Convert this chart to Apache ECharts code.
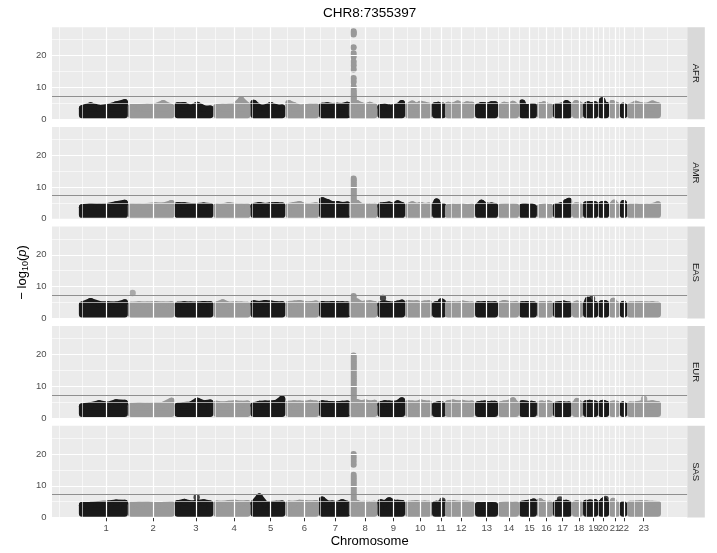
<!DOCTYPE html>
<html><head><meta charset="utf-8">
<script src="https://cdn.jsdelivr.net/npm/echarts@6/dist/echarts.min.js"></script>
<style>html,body{margin:0;padding:0;background:#fff}#c{width:717px;height:553px}</style>
</head><body><div id="c"></div>
<script>
// ---------------- data ----------------
const chartTitle = 'CHR8:7355397';
const panels = ['AFR', 'AMR', 'EAS', 'EUR', 'SAS'];
const chromosomes = ['1','2','3','4','5','6','7','8','9','10','11','12','13','14','15','16','17','18','19','20','21','22','23'];
// cumulative genome position (Mb) of first / last SNP of each chromosome
const chrStart = [0, 254, 496, 697, 890, 1071, 1245, 1400, 1548, 1691, 1831, 1898, 2054, 2173, 2282, 2375, 2458, 2557, 2614, 2692, 2749, 2805, 2842];
const chrEnd   = [221, 463, 664, 857, 1037, 1212, 1375, 1515, 1658, 1798, 1870, 2021, 2140, 2249, 2342, 2425, 2524, 2581, 2659, 2716, 2773, 2810, 2985];
// tick (label) position of each chromosome
const chrTick  = [125, 369, 590, 789, 977, 1153, 1314, 1468, 1614, 1753, 1860, 1966, 2098, 2213, 2320, 2408, 2492, 2576, 2652, 2701, 2763, 2809, 2912];
// colour group of each chromosome (0 = dark, 1 = grey)
const chrGroup = [0,1,0,1,0,1,0,1,0,1,0,1,0,1,0,1,0,1,0,0,1,0,1];
const yTicks = [0, 10, 20];
const yMinor = [5, 15, 25];
const sigLevel = 7.3;
const minLogP = 1.3;
const leadPos = 1407.4; // CHR8:7355397

// top of the -log10(p) cloud along each chromosome (max values)
const envAFR = [
 [3.4,4.3,3.5,3.8,4.6,5.3],[3.8,3.8,3.9,4.0,5.0,3.8],[4.3,4.4,3.5,4.5,3.4,3.3],[3.8,3.9,4.0,4.2,6.1,4.3],
 [5.1,3.7,3.6,4.4,3.7,3.6],[5.0,4.3,3.6,3.8,4.0,4.0],[4.2,4.3,4.1,4.2,4.1,4.5],[4.3,5.0,4.4,4.0,4.5,4.0],
 [3.8,3.9,3.6,3.7,4.0,5.0],[4.2,4.9,4.1,4.8,4.5,4.2],[4.3,4.3,4.5,4.0,3.9,4.2],[4.5,4.2,4.9,4.1,4.6,4.5],
 [4.0,4.4,4.3,4.2,4.6,4.6],[4.0,4.5,4.3,4.0,4.8,4.2],[5.2,3.7,3.8,3.8,4.0,4.0],[4.4,4.1,4.6,4.3,4.0,4.0],
 [4.0,4.1,4.2,4.3,5.0,4.5],[4.6,5.0,4.8,4.4,4.6,4.5],[4.3,4.6,4.4,4.4,4.3,4.6],[4.6,5.9,4.9,4.2,4.5,4.5],
 [5.0,4.6,4.2,4.2,4.5,4.3],[3.5,4.0,4.2,4.1,4.0,3.7],[4.0,4.8,4.3,4.2,4.9,4.3]];
const envAMR = [
 [3.6,4.0,3.8,4.0,4.5,5.0],[4.0,3.9,4.0,4.2,4.1,4.9],[4.3,4.2,4.0,4.0,4.1,4.0],[3.9,3.8,4.3,4.0,3.9,3.9],
 [4.0,4.3,4.0,4.2,4.3,4.1],[4.0,4.3,4.6,4.0,4.0,4.2],[5.8,5.2,4.5,4.6,4.3,4.4],[4.4,5.0,4.0,4.0,3.9,4.0],
 [4.1,4.3,4.4,4.0,4.8,4.3],[4.0,4.5,4.0,4.3,4.0,4.1],[4.4,5.4,4.3,4.0,4.0,4.0],[3.6,3.8,3.7,3.9,3.6,3.8],
 [4.0,5.0,4.3,4.0,4.1,4.0],[3.8,3.9,4.0,3.8,3.9,3.8],[3.8,4.0,3.8,3.7,3.9,3.6],[3.6,3.7,3.8,3.9,3.6,3.7],
 [3.9,4.0,4.2,4.4,5.2,5.6],[4.0,4.2,4.0,3.9,4.1,4.0],[4.5,4.4,4.5,4.6,4.4,4.5],[4.4,4.5,4.3,4.4,4.6,4.3],
 [4.2,4.6,5.0,4.4,4.2,4.1],[3.8,4.2,4.5,4.9,4.6,4.2],[3.8,3.9,3.7,3.8,3.9,4.5]];
const envEAS = [
 [4.3,5.4,4.5,4.4,4.3,5.0],[4.2,4.4,4.3,4.5,4.3,4.4],[4.2,4.4,4.3,4.3,4.5,4.4],[4.3,5.0,4.2,4.4,4.3,4.2],
 [4.7,4.5,4.8,4.6,4.4,4.4],[4.5,4.6,4.8,4.5,4.4,4.6],[4.5,4.3,4.5,4.4,4.4,4.3],[4.6,5.3,4.5,4.6,4.7,4.5],
 [4.4,4.6,4.4,4.3,4.6,4.9],[4.8,4.6,4.7,4.5,4.6,4.7],[4.3,4.4,4.5,4.6,5.3,5.0],[4.5,4.4,4.3,4.6,4.4,4.3],
 [4.4,4.3,4.5,4.4,4.3,4.4],[4.5,4.8,4.6,4.4,4.3,4.5],[4.4,4.3,4.5,4.4,4.3,4.3],[4.4,4.5,4.4,4.2,4.3,4.5],
 [4.3,4.4,4.5,4.6,4.4,4.3],[4.4,4.5,4.6,4.4,4.5,4.4],[4.5,5.8,5.0,4.8,4.6,4.5],[4.6,4.7,4.5,4.6,4.7,4.6],
 [4.6,5.5,4.8,4.4,4.5,4.3],[4.2,4.3,4.5,4.3,4.2,4.0],[4.3,4.4,4.5,4.3,4.4,4.2]];
const envEUR = [
 [3.6,4.0,4.6,4.1,4.9,4.7],[3.8,4.0,3.9,4.0,4.1,5.4],[3.8,4.0,4.2,5.4,4.6,4.8],[4.4,4.2,4.4,4.6,4.4,4.5],
 [4.0,4.4,4.5,4.5,4.7,6.0],[4.4,4.6,4.5,4.4,4.7,4.5],[4.6,4.4,4.3,4.3,4.4,4.5],[4.5,5.0,4.6,4.8,4.5,4.7],
 [4.3,4.6,4.5,4.4,4.6,5.5],[4.6,4.5,4.4,4.8,4.6,4.5],[4.0,4.1,4.2,4.3,4.2,4.1],[4.6,4.8,4.5,4.7,4.4,4.5],
 [4.3,4.4,4.5,4.3,4.4,4.4],[4.3,4.5,4.6,4.8,5.5,4.4],[4.6,4.5,4.4,4.3,4.4,4.3],[4.4,4.5,4.3,4.4,4.6,4.4],
 [4.1,4.2,4.3,4.2,4.1,4.2],[4.5,4.7,5.3,4.7,4.6,4.5],[4.6,4.5,4.7,4.6,4.5,4.5],[4.5,4.6,4.7,4.5,4.4,4.4],
 [4.4,4.3,4.5,4.4,4.3,4.4],[4.0,4.2,4.1,4.0,4.0,3.9],[4.2,4.3,4.5,4.4,4.6,4.3]];
const envSAS = [
 [3.9,4.0,4.2,4.4,4.7,4.6],[4.0,4.1,4.2,3.9,4.0,4.2],[4.5,4.9,4.4,4.6,4.8,4.4],[4.4,4.3,4.5,4.6,4.4,4.5],
 [4.5,6.6,4.3,4.2,4.3,4.4],[4.4,4.3,4.6,4.5,4.4,4.5],[5.6,4.4,4.4,4.2,4.8,4.3],[4.4,4.6,4.2,4.3,4.2,4.3],
 [4.8,4.5,5.4,4.7,4.6,4.5],[4.3,4.4,4.5,4.3,4.4,4.3],[4.2,4.3,4.1,4.4,4.5,4.6],[4.4,4.5,4.3,4.4,4.3,4.2],
 [3.9,3.8,3.9,3.8,3.9,3.8],[4.0,4.1,4.2,4.1,4.0,4.2],[4.3,4.4,4.5,4.6,4.8,5.0],[5.1,4.6,4.4,4.3,4.2,4.3],
 [4.4,4.7,4.6,4.5,4.6,4.3],[4.3,4.4,4.5,4.3,4.2,4.3],[4.6,4.5,4.7,4.6,4.5,4.8],[4.6,4.8,5.2,5.4,5.0,4.7],
 [4.6,5.2,4.5,4.3,4.2,4.1],[3.9,4.1,4.2,4.0,3.8,3.7],[4.3,4.4,4.5,4.4,4.3,4.2]];

// -log10(p) of the SNPs at the lead locus (chr8, 7.36 Mb)
const leadAFR = [27.6,27.2,26.7,22.6,20.7,19.7,18.1,17.0,15.7,12.9,11.8,10.2,9.2,8.6,8.0,7.5,7.0,6.5,6.0,5.5];
const leadAMR = [12.6,12.1,11.5,10.9,10.3,9.7,9.1,8.5,7.9,7.3,6.7,6.1,5.5];
const leadEAS = [7.0,6.1,5.4];
const leadEUR = [19.6,19.0,18.4,17.8,17.3,16.7,16.1,15.5,14.9,14.3,13.7,13.1,12.5,11.9,11.3,10.7,10.1,9.5,8.9,8.3,7.7,7.1,6.5,5.9,5.3];
const leadSAS = [19.9,18.9,17.8,16.7,13.4,12.6,11.9,11.1,10.4,9.6,8.9,8.1,7.4,6.6,5.9,5.2];

// isolated SNPs above the cloud: [chromosome index, position (Mb), -log10(p)]
const loneAFR = [];
const loneAMR = [];
const loneEAS = [[1, 262, 8.0], [8, 1560, 6.4], [18, 2644, 6.2]];
const loneEUR = [[22, 2914, 6.0]];
const loneSAS = [[2, 594, 6.4], [10, 1868, 5.3], [16, 2478, 5.7], [19, 2714, 5.9]];

const envs  = [envAFR, envAMR, envEAS, envEUR, envSAS];
const leads = [leadAFR, leadAMR, leadEAS, leadEUR, leadSAS];
const lones = [loneAFR, loneAMR, loneEAS, loneEUR, loneSAS];

// ---------------- layout / style ----------------
const COLORS = ['#1A1A1A', '#999999'];
const FONT = 'Liberation Sans, Arial, Helvetica, sans-serif';
const PL = 52, PR = 687.3, PT = 27.3, PH = 91.9, STEP = 99.6;
const XMIN = -156, XMAX = 3138, YMIN = 0, YMAX = 28.9;
const R = 3.2;

// ggplot-like minor breaks for x
const bd = chrTick[1] - chrTick[0];
const ext = [chrTick[0] - bd].concat(chrTick);
if (XMAX > chrTick[chrTick.length - 1]) ext.push(chrTick[chrTick.length - 1] + bd);
const xMinor = [];
for (let i = 0; i < ext.length - 1; i++) { xMinor.push(ext[i]); xMinor.push((ext[i] + ext[i + 1]) / 2); }
const xMinorIn = xMinor.filter(v => v > XMIN && v < XMAX);

const grids = [], xAxes = [], yAxes = [], series = [], graphics = [];
panels.forEach((p, g) => {
  const top = PT + g * STEP;
  grids.push({ left: PL, width: PR - PL, top: top, height: PH, show: true, backgroundColor: '#EBEBEB', borderWidth: 0, containLabel: false });
  const bottom = g === panels.length - 1;
  xAxes.push({
    gridIndex: g, type: 'value', min: XMIN, max: XMAX,
    axisLine: { show: false }, splitLine: { show: false },
    axisTick: bottom ? { show: true, customValues: chrTick, length: 3.7, lineStyle: { color: '#333333', width: 1 } } : { show: false },
    axisLabel: bottom ? { show: true, customValues: chrTick, interval: 0, margin: 5.5, fontSize: 9.5, color: '#4D4D4D', fontFamily: FONT,
      formatter: v => { const k = chrTick.findIndex(t => Math.abs(t - v) < 0.01); return k >= 0 ? chromosomes[k] : ''; } } : { show: false }
  });
  yAxes.push({
    gridIndex: g, type: 'value', min: YMIN, max: YMAX,
    axisLine: { show: false }, splitLine: { show: false },
    axisTick: { show: true, customValues: yTicks, length: 3.7, lineStyle: { color: '#333333', width: 1 } },
    axisLabel: { show: true, customValues: yTicks, margin: 5.5, fontSize: 9.5, color: '#4D4D4D', fontFamily: FONT }
  });
  // panel grid lines
  const gl = [];
  yMinor.forEach(v => gl.push({ yAxis: v, lineStyle: { color: '#FFFFFF', width: 0.6, type: 'solid' } }));
  xMinorIn.forEach(v => gl.push({ xAxis: v, lineStyle: { color: '#FFFFFF', width: 0.6, type: 'solid' } }));
  yTicks.forEach(v => gl.push({ yAxis: v, lineStyle: { color: '#FFFFFF', width: 1.2, type: 'solid' } }));
  chrTick.forEach(v => gl.push({ xAxis: v, lineStyle: { color: '#FFFFFF', width: 1.2, type: 'solid' } }));
  series.push({
    type: 'line', xAxisIndex: g, yAxisIndex: g, data: [], z: 1, silent: true,
    markLine: { silent: true, symbol: ['none', 'none'], label: { show: false }, animation: false, data: gl }
  });
  // SNP clouds, one shape per chromosome
  const env = envs[g];
  series.push({
    type: 'custom', xAxisIndex: g, yAxisIndex: g, z: 3, silent: true, animation: false,
    data: chromosomes.map((c, i) => [chrStart[i], minLogP, i]),
    renderItem: (params, api) => {
      const i = api.value(2);
      const vals = env[i], n = vals.length, s = chrStart[i], e = chrEnd[i];
      const col = COLORS[chrGroup[i]];
      const pts = [api.coord([s, minLogP])];
      const tops = [];
      for (let k = 0; k < n; k++) {
        const x = s + (e - s) * k / (n - 1);
        const c = api.coord([x, vals[k]]);
        pts.push(c); tops.push(c);
      }
      pts.push(api.coord([e, minLogP]));
      const children = [{ type: 'polygon', shape: { points: pts }, style: { fill: col, stroke: col, lineWidth: 2 * R, lineJoin: 'round' } }];
      tops.forEach(c => children.push({ type: 'circle', shape: { cx: c[0], cy: c[1], r: R }, style: { fill: col } }));
      return { type: 'group', children: children };
    }
  });
  // lead locus column + isolated SNPs
  series.push({
    type: 'scatter', xAxisIndex: g, yAxisIndex: g, z: 4, silent: true, animation: false,
    symbolSize: 2 * R, itemStyle: { color: COLORS[chrGroup[7]], opacity: 1 },
    data: leads[g].map(v => [leadPos, v]),
    markLine: { silent: true, symbol: ['none', 'none'], label: { show: false }, animation: false,
      lineStyle: { color: '#8F8F8F', width: 1.1, type: 'solid' }, data: [{ yAxis: sigLevel }] }
  });
  series.push({
    type: 'scatter', xAxisIndex: g, yAxisIndex: g, z: 4, silent: true, animation: false,
    symbolSize: 2 * R,
    data: lones[g].map(d => ({ value: [d[1], d[2]], itemStyle: { color: COLORS[chrGroup[d[0]]] } }))
  });
  // facet strip
  graphics.push({ type: 'rect', shape: { x: PR, y: top, width: 17.5, height: PH }, style: { fill: '#D9D9D9' }, z: 10 });
  graphics.push({ type: 'text', x: PR + 8.75, y: top + PH / 2, rotation: -Math.PI / 2,
    style: { text: p, fill: '#1A1A1A', font: '9.5px ' + FONT, align: 'center', verticalAlign: 'middle' }, z: 11 });
});

graphics.push({ type: 'text', x: (PL + PR) / 2, y: 13.5, style: { text: chartTitle, fill: '#000000', font: '13.5px ' + FONT, align: 'center', verticalAlign: 'middle' } });
graphics.push({ type: 'text', x: (PL + PR) / 2, y: 541.5, style: { text: 'Chromosome', fill: '#000000', font: '13px ' + FONT, align: 'center', verticalAlign: 'middle' } });
graphics.push({ type: 'text', x: 22, y: PT + (4 * STEP + PH) / 2, rotation: Math.PI / 2,
  style: { text: '{a|− log}{s|10}{a|(}{i|p}{a|)}', align: 'center', verticalAlign: 'middle', fill: '#000000',
    rich: { a: { fontSize: 13, fontFamily: FONT, lineHeight: 16, fill: '#000' },
            s: { fontSize: 9, fontFamily: FONT, lineHeight: 16, verticalAlign: 'bottom', fill: '#000', padding: [5, 0, 0, 0] },
            i: { fontSize: 13, fontFamily: FONT, fontStyle: 'italic', lineHeight: 16, fill: '#000' } } } });

const chart = echarts.init(document.getElementById('c'), null, { renderer: 'canvas' });
chart.setOption({ animation: false, grid: grids, xAxis: xAxes, yAxis: yAxes, series: series, graphic: graphics });
</script></body></html>
